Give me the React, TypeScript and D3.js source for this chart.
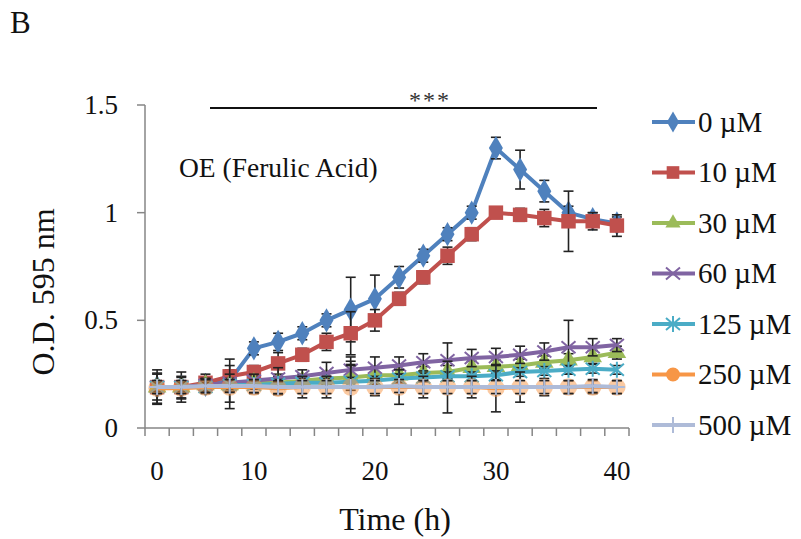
import React from "react";
import * as d3 from "d3";

const times = [0, 2.5, 5, 7.5, 10, 12, 14, 16, 18, 20, 22, 24, 26, 28, 30, 32, 34, 36, 38, 40];
const xTickLabels = [0, 10, 20, 30, 40];
const yTicks = [0, 0.5, 1, 1.5];
const seriesNames = ["0 µM", "10 µM", "30 µM", "60 µM", "125 µM", "250 µM", "500 µM"];

const s0 = [0.19, 0.19, 0.2, 0.22, 0.37, 0.4, 0.44, 0.5, 0.55, 0.6, 0.7, 0.8, 0.9, 1.0, 1.3, 1.2, 1.1, 1.0, 0.97, 0.95];
const s10 = [0.19, 0.19, 0.21, 0.24, 0.26, 0.3, 0.34, 0.4, 0.44, 0.5, 0.6, 0.7, 0.8, 0.9, 1.0, 0.99, 0.975, 0.96, 0.96, 0.94];
const s30 = [0.19, 0.19, 0.2, 0.2, 0.21, 0.21, 0.22, 0.23, 0.235, 0.245, 0.245, 0.255, 0.26, 0.28, 0.285, 0.29, 0.305, 0.315, 0.33, 0.35];
const s60 = [0.19, 0.19, 0.2, 0.21, 0.22, 0.23, 0.24, 0.255, 0.27, 0.28, 0.29, 0.305, 0.315, 0.325, 0.33, 0.34, 0.355, 0.375, 0.375, 0.385];
const s125 = [0.19, 0.19, 0.19, 0.2, 0.2, 0.205, 0.21, 0.21, 0.215, 0.22, 0.23, 0.235, 0.24, 0.24, 0.245, 0.26, 0.265, 0.27, 0.275, 0.27];
const s250 = [0.185, 0.185, 0.19, 0.19, 0.19, 0.185, 0.19, 0.19, 0.19, 0.19, 0.19, 0.19, 0.19, 0.19, 0.185, 0.19, 0.19, 0.19, 0.19, 0.19];
const s500 = [0.19, 0.19, 0.195, 0.195, 0.195, 0.19, 0.19, 0.19, 0.19, 0.19, 0.195, 0.19, 0.19, 0.19, 0.19, 0.19, 0.19, 0.19, 0.195, 0.19];

const e0 = [0.08, 0.07, 0.03, 0.1, 0.03, 0.04, 0.03, 0.03, 0.15, 0.11, 0.05, 0.03, 0.03, 0.03, 0.05, 0.09, 0.05, 0.03, 0.03, 0.03];
const e10 = [0.06, 0.05, 0.04, 0.03, 0.03, 0.05, 0.03, 0.04, 0.1, 0.05, 0.03, 0.03, 0.04, 0.03, 0.02, 0.03, 0.04, 0.14, 0.04, 0.05];
const e30 = [0.03, 0.03, 0.03, 0.03, 0.03, 0.03, 0.03, 0.03, 0.06, 0.04, 0.03, 0.03, 0.03, 0.03, 0.03, 0.03, 0.03, 0.03, 0.03, 0.03];
const e60 = [0.02, 0.02, 0.03, 0.04, 0.03, 0.05, 0.03, 0.05, 0.06, 0.05, 0.04, 0.04, 0.08, 0.04, 0.04, 0.04, 0.04, 0.125, 0.04, 0.03];
const e125 = [0.02, 0.02, 0.02, 0.02, 0.02, 0.02, 0.02, 0.02, 0.02, 0.02, 0.02, 0.02, 0.02, 0.02, 0.02, 0.02, 0.02, 0.02, 0.02, 0.02];
const e250 = [0.07, 0.05, 0.03, 0.1, 0.03, 0.03, 0.05, 0.05, 0.1, 0.04, 0.08, 0.05, 0.12, 0.05, 0.11, 0.07, 0.04, 0.03, 0.03, 0.03];
const e500 = [0.03, 0.03, 0.03, 0.03, 0.03, 0.03, 0.03, 0.03, 0.12, 0.03, 0.03, 0.03, 0.03, 0.03, 0.03, 0.03, 0.03, 0.03, 0.03, 0.03];

const colors = ["#4F81BD", "#C0504D", "#9BBB59", "#8064A2", "#4BACC6", "#F79646", "#AEBBD8"];
const markerKinds = ["diamond", "square", "triangle", "x", "star", "circle", "plus"];

const values = [s0, s10, s30, s60, s125, s250, s500];
const errors = [e0, e10, e30, e60, e125, e250, e500];

function Marker({ kind, x, y, color, legend }: { kind: string; x: number; y: number; color: string; legend?: boolean }) {
  const t = `translate(${x},${y})`;
  if (kind === "diamond") return <path transform={t} d={d3.symbol(d3.symbolDiamond, legend ? 130 : 170)()!} fill={color} />;
  if (kind === "square") return <path transform={t} d={d3.symbol(d3.symbolSquare, legend ? 160 : 210)()!} fill={color} />;
  if (kind === "triangle") return <path transform={t} d={d3.symbol(d3.symbolTriangle, legend ? 100 : 150)()!} fill={color} />;
  if (kind === "circle") return <path transform={t} d={d3.symbol(d3.symbolCircle, legend ? 150 : 240)()!} fill={color} fillOpacity={legend ? 1 : 0.5} />;
  if (kind === "x") return <path transform={t} d="M-7,-6L7,6M-7,6L7,-6" stroke={color} strokeWidth={2} fill="none" />;
  if (kind === "star") return <path transform={t} d="M-7,-6L7,6M-7,6L7,-6M0,-8L0,8" stroke={color} strokeWidth={2} fill="none" />;
  return <path transform={t} d="M-8,0L8,0M0,-8L0,8" stroke={color} strokeWidth={2} fill="none" />;
}

export default function App() {
  const W = 801, H = 539;
  const x = d3.scaleBand<number>().domain(d3.range(times.length)).range([145, 629]).padding(0);
  const cx = (i: number) => x(i)! + x.bandwidth() / 2;
  const y = d3.scaleLinear().domain([0, 1.5]).range([428, 105]);
  const line = d3.line<number>().x((_, i) => cx(i)).y((v) => y(v));
  const axisColor = "#868686";
  const font = "'Liberation Serif', 'Times New Roman', serif";
  const legendY = d3.scalePoint<number>().domain(d3.range(seriesNames.length)).range([122, 425]);

  return (
    <svg width={W} height={H} style={{ position: "absolute", left: 0, top: 0, background: "#fff" }} fontFamily={font}>
      <rect width={W} height={H} fill="#fff" />
      <text x={10} y={33} fontSize={31} fill="#111">B</text>

      {/* y axis */}
      <line x1={145} x2={145} y1={y(1.5)} y2={y(0)} stroke={axisColor} strokeWidth={1.5} />
      {yTicks.map((t) => (
        <g key={t}>
          <line x1={137} x2={145} y1={y(t)} y2={y(t)} stroke={axisColor} strokeWidth={1.5} />
          <text x={118} y={y(t)} dy="0.33em" textAnchor="end" fontSize={27} fill="#111">{t}</text>
        </g>
      ))}
      {/* x axis */}
      <line x1={145} x2={629} y1={y(0)} y2={y(0)} stroke={axisColor} strokeWidth={1.5} />
      {d3.range(times.length + 1).map((i) => {
        const px = i < times.length ? x(i)! : 629;
        return <line key={i} x1={px} x2={px} y1={y(0)} y2={y(0) + 8} stroke={axisColor} strokeWidth={1.5} />;
      })}
      {xTickLabels.map((t) => (
        <text key={t} x={cx(times.indexOf(t))} y={480} textAnchor="middle" fontSize={27} fill="#111">{t}</text>
      ))}

      <text x={395} y={530} textAnchor="middle" fontSize={32} fill="#111">Time (h)</text>
      <text transform="translate(54,292) rotate(-90)" textAnchor="middle" fontSize={32} fill="#111">O.D. 595 nm</text>

      {/* significance */}
      <line x1={210} x2={597} y1={108} y2={108} stroke="#111" strokeWidth={2} />
      <text x={430} y={108} textAnchor="middle" fontSize={24} fill="#333" letterSpacing={2}>***</text>
      <text x={179} y={177} fontSize={27.5} fill="#111">OE (Ferulic Acid)</text>

      {values.map((vals, si) => (
        <g key={si}>
          <path d={line(vals)!} fill="none" stroke={colors[si]} strokeWidth={4} strokeLinejoin="round" />
          {vals.map((v, i) => {
            const e = errors[si][i];
            const px = cx(i);
            return (
              <g key={i} stroke="#222" strokeWidth={1.6}>
                <line x1={px} x2={px} y1={y(v + e)} y2={y(v - e)} />
                <line x1={px - 5} x2={px + 5} y1={y(v + e)} y2={y(v + e)} />
                <line x1={px - 5} x2={px + 5} y1={y(v - e)} y2={y(v - e)} />
              </g>
            );
          })}
          {vals.map((v, i) => (
            <Marker key={i} kind={markerKinds[si]} x={cx(i)} y={y(v)} color={colors[si]} />
          ))}
        </g>
      ))}

      {/* legend */}
      {seriesNames.map((n, si) => {
        const ly = legendY(si)!;
        return (
          <g key={n}>
            <line x1={652} x2={695} y1={ly} y2={ly} stroke={colors[si]} strokeWidth={4} />
            <Marker kind={markerKinds[si]} x={673} y={ly} color={colors[si]} legend />
            <text x={698} y={ly} dy="0.33em" fontSize={29} fill="#111">{n}</text>
          </g>
        );
      })}
    </svg>
  );
}
